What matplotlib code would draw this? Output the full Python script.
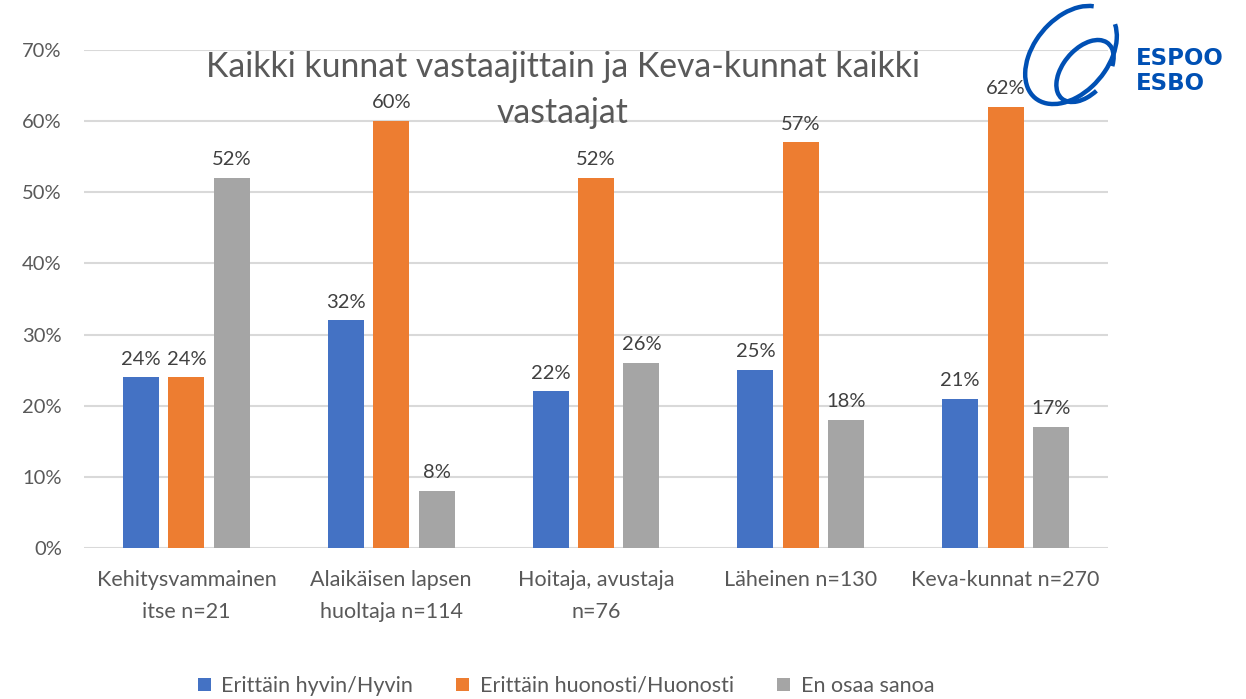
import numpy as np
from matplotlib import pyplot as plt
from matplotlib.patches import Arc

categories = ["Kehitysvammainen\nitse n=21", "Alaikäisen lapsen\nhuoltaja n=114",
              "Hoitaja, avustaja\nn=76", "Läheinen n=130", "Keva-kunnat n=270"]
series_names = ["Erittäin hyvin/Hyvin", "Erittäin huonosti/Huonosti", "En osaa sanoa"]
hyvin = [24, 32, 22, 25, 21]
huonosti = [24, 60, 52, 57, 62]
en_osaa = [52, 8, 26, 18, 17]
colors = ["#4472C4", "#ED7D31", "#A5A5A5"]
title_lines = ["Kaikki kunnat vastaajittain ja Keva-kunnat kaikki", "vastaajat"]

plt.rcParams['font.family'] = ['Lato', 'DejaVu Sans']

fig = plt.figure(figsize=(12.46, 6.99), dpi=100)
ax = fig.add_axes([84/1246, 151/699, 1024/1246, 498/699])

x = np.arange(len(categories))
width = 0.176
step = 0.222
for i, (vals, name, c) in enumerate(zip([hyvin, huonosti, en_osaa], series_names, colors)):
    pos = x + (i - 1) * step
    ax.bar(pos, vals, width, color=c, label=name, zorder=3)
    for p, v in zip(pos, vals):
        ax.annotate(f"{v}%", (p, v), xytext=(0, 7), textcoords="offset points",
                    ha="center", va="bottom", fontsize=14.5, color="#404040")

ax.set_xlim(-0.5, len(categories) - 0.5)
ax.set_ylim(0, 70)
ax.set_yticks(range(0, 71, 10))
ax.set_yticklabels([f"{t}%" for t in range(0, 71, 10)])
ax.set_xticks(x)
ax.set_xticklabels(categories, linespacing=1.75)
ax.tick_params(axis="y", length=0, pad=16, labelsize=14.5, labelcolor="#595959")
ax.tick_params(axis="x", length=0, pad=16, labelsize=15.5, labelcolor="#595959")
ax.grid(axis="y", color="#D9D9D9", linewidth=1.5, zorder=0)
for s in ax.spines.values():
    s.set_visible(False)

# overlay in pixel coords (y down) for title and logo
lax = fig.add_axes([0, 0, 1, 1])
lax.set_xlim(0, 1246)
lax.set_ylim(699, 0)
lax.axis("off")

lax.text(563, 77, title_lines[0], ha="center", va="baseline", fontsize=24.3, color="#595959")
lax.text(563, 123, title_lines[1], ha="center", va="baseline", fontsize=24.3, color="#595959")

fig.legend(loc="center", bbox_to_anchor=(566/1246, 1 - 686/699), ncol=3, frameon=False,
           fontsize=15.5, labelcolor="#595959", handlelength=0.6, handleheight=0.6,
           handletextpad=0.5, columnspacing=2.0)

# logo
blue = "#0050B4"
lax.add_patch(Arc((1071, 55), 112, 74, angle=-50, theta1=15, theta2=345, color=blue, lw=3.2))
lax.add_patch(Arc((1085, 71), 72, 44, angle=-50, theta1=110, theta2=400, color=blue, lw=3.2))
lax.text(1136, 65, "ESPOO", fontsize=16.5, fontweight="bold", color=blue,
         family="DejaVu Sans", ha="left", va="baseline")
lax.text(1136, 90, "ESBO", fontsize=16.5, fontweight="bold", color=blue,
         family="DejaVu Sans", ha="left", va="baseline")

fig.savefig("out.png", dpi=100)
